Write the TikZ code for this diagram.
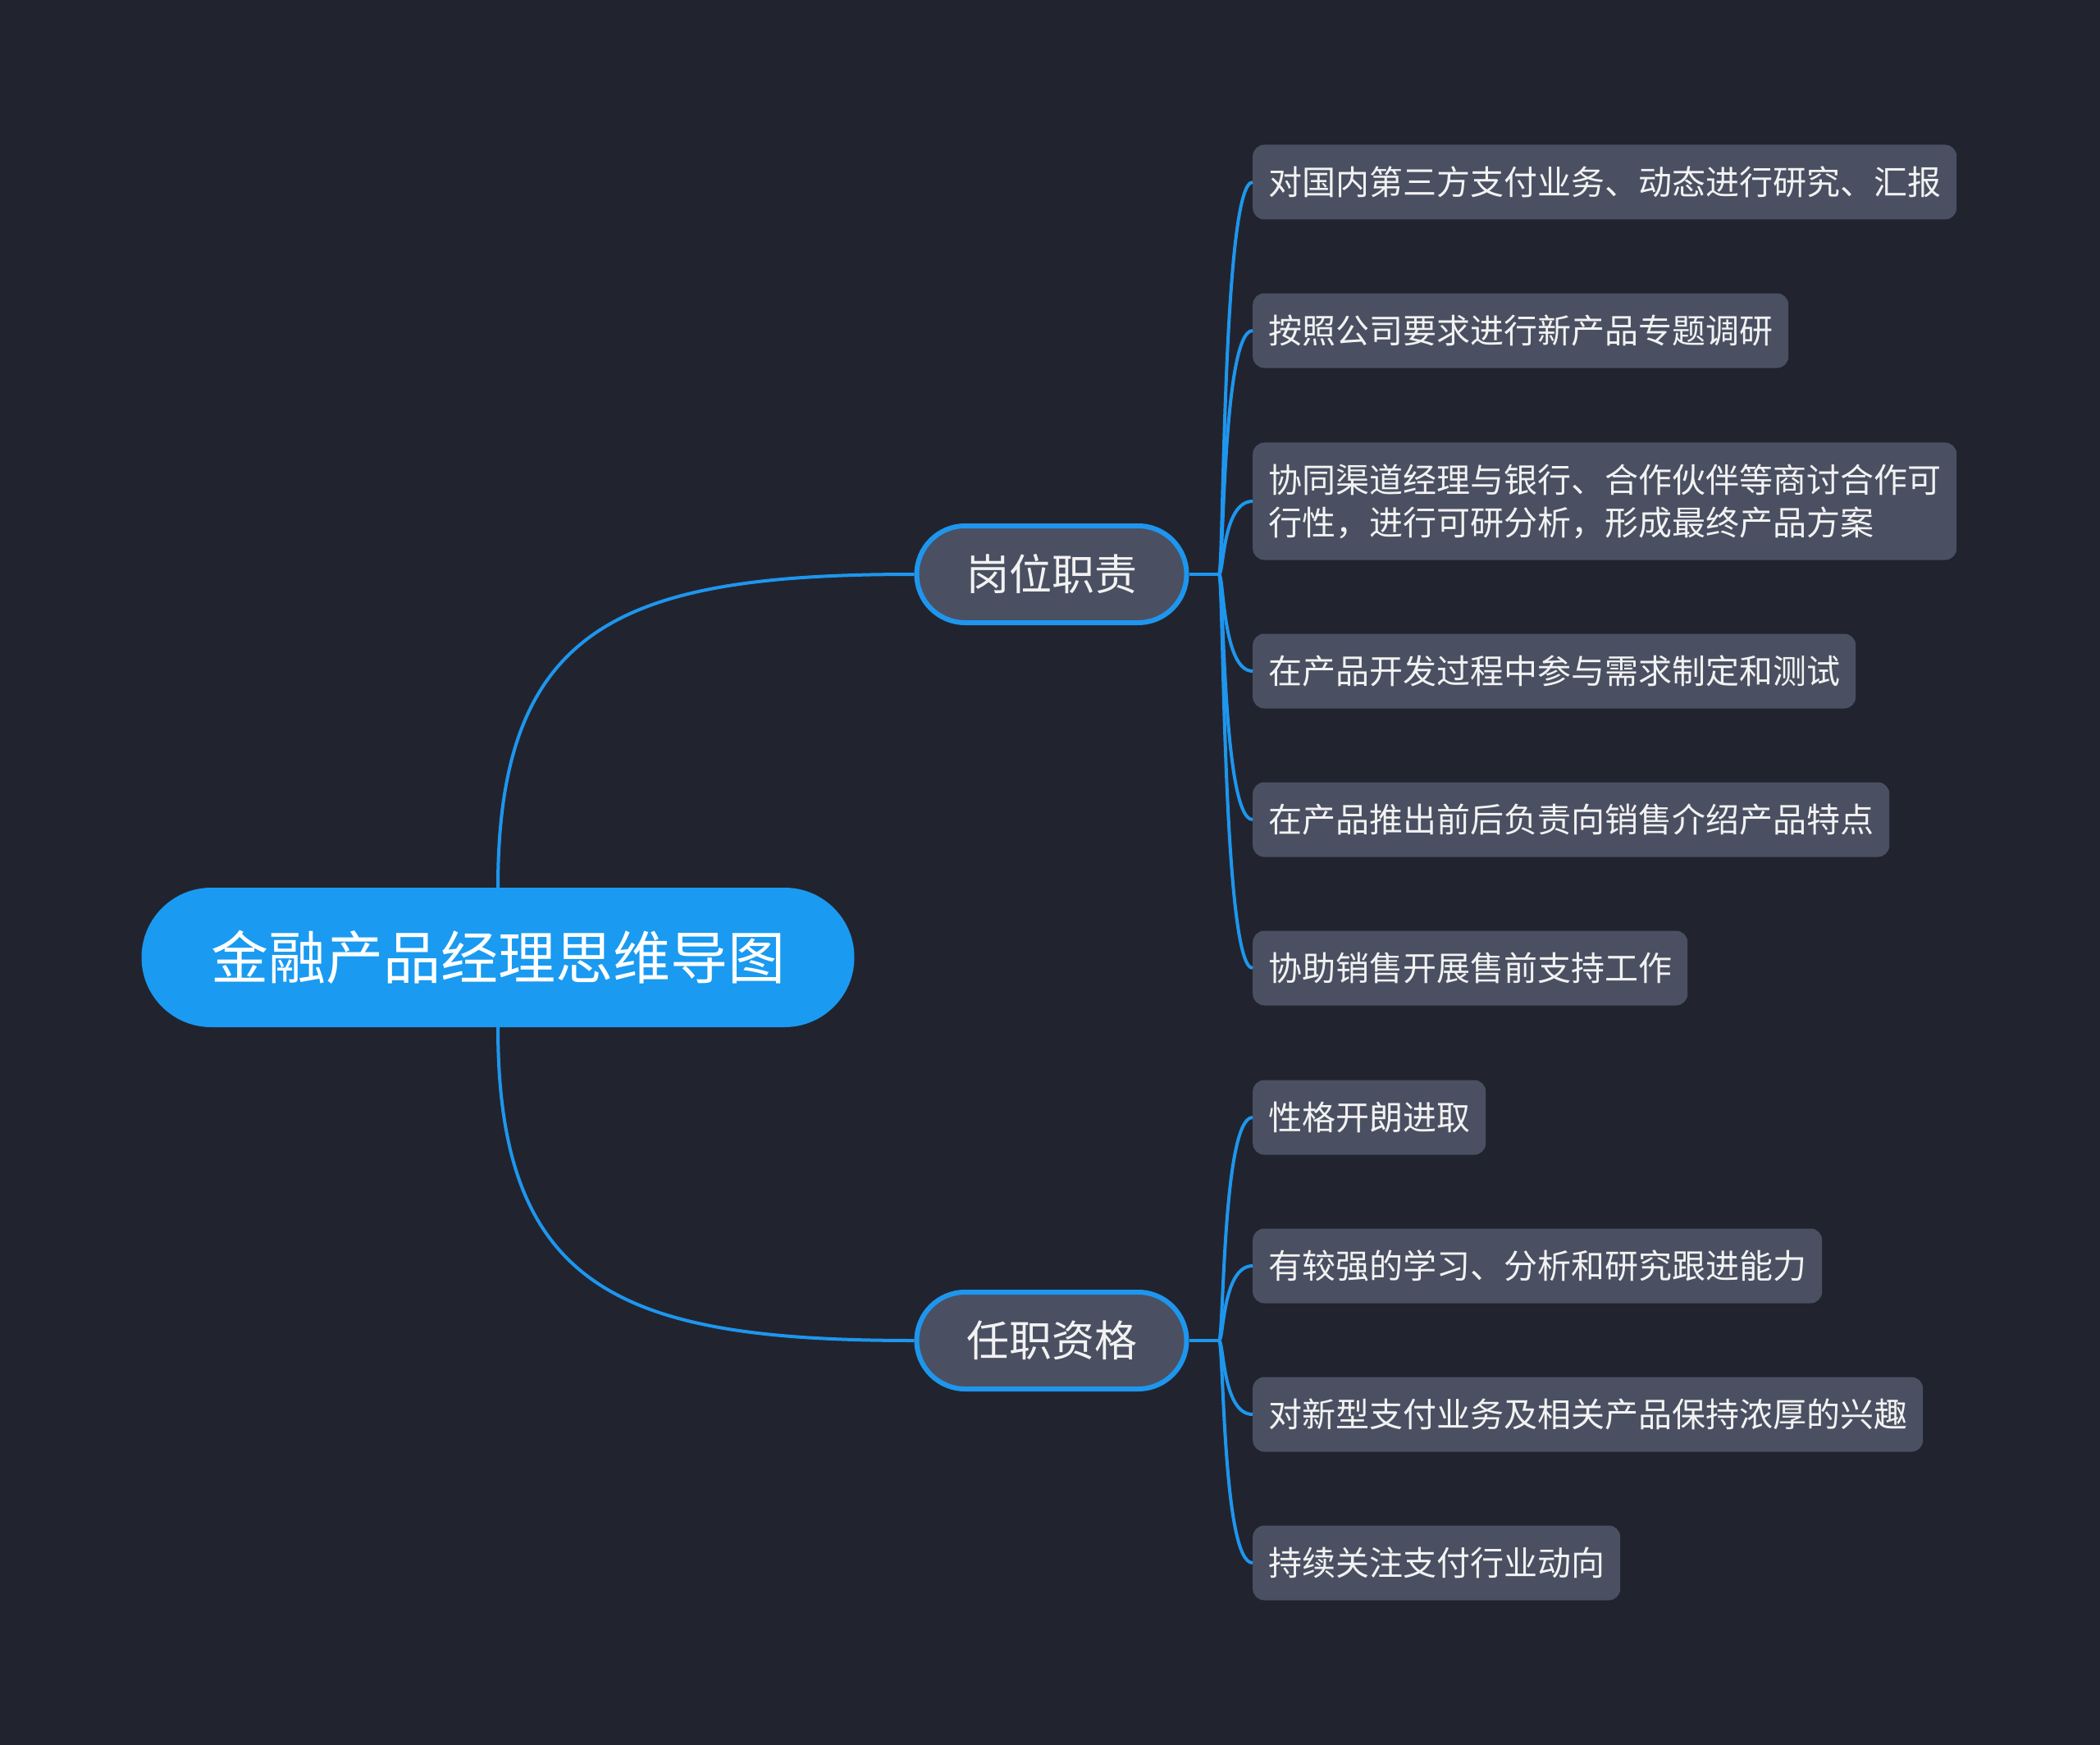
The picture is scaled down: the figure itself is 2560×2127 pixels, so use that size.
\documentclass[tikz,border=0pt]{standalone}
\usepackage{fontspec}
\newfontfamily\cjk{Noto Sans CJK SC}
\definecolor{bgc}{HTML}{21242F}
\definecolor{blueline}{HTML}{1E96EE}
\definecolor{rootfill}{HTML}{1A9AF0}
\definecolor{boxfill}{HTML}{4A5062}
\definecolor{txt}{HTML}{F2F2F2}
\tikzset{
  rootbox/.style={draw=none, fill=rootfill, rounded corners=85pt, minimum width=869pt, minimum height=170pt, inner sep=0pt, text=white, font=\cjk\fontsize{70pt}{80pt}\selectfont},
  branchbox/.style={draw=blueline, line width=6pt, fill=boxfill, rounded corners=59pt, minimum width=329pt, minimum height=118pt, inner sep=0pt, text=txt, font=\cjk\fontsize{52pt}{60pt}\selectfont},
  leafbox/.style={draw=none, fill=boxfill, rounded corners=14pt, minimum height=91pt, inner xsep=19pt, inner ysep=26pt, anchor=west, align=left, text=txt, font=\cjk\fontsize{41pt}{52pt}\selectfont},
  conn/.style={draw=blueline, line width=4pt},
}
\begin{document}
\begin{tikzpicture}[x=1pt, y=-1pt]
\useasboundingbox (0,0) rectangle (2560,2127);
\fill[bgc] (0,0) rectangle (2560,2127);

\node[rootbox] (root) at (607,1167) {金融产品经理思维导图};
\node[branchbox] (b1) at (1282,700) {岗位职责};
\node[branchbox] (b2) at (1282,1634) {任职资格};

\node[leafbox] (l1) at (1527,222) {对国内第三方支付业务、动态进行研究、汇报};
\node[leafbox] (l2) at (1527,403) {按照公司要求进行新产品专题调研};
\node[leafbox] (l3) at (1527,611) {协同渠道经理与银行、合作伙伴等商讨合作可\\行性，进行可研分析，形成最终产品方案};
\node[leafbox] (l4) at (1527,818) {在产品开发过程中参与需求制定和测试};
\node[leafbox] (l5) at (1527,999) {在产品推出前后负责向销售介绍产品特点};
\node[leafbox] (l6) at (1527,1180) {协助销售开展售前支持工作};
\node[leafbox] (l7) at (1527,1362) {性格开朗进取};
\node[leafbox] (l8) at (1527,1543) {有较强的学习、分析和研究跟进能力};
\node[leafbox] (l9) at (1527,1724) {对新型支付业务及相关产品保持浓厚的兴趣};
\node[leafbox] (l10) at (1527,1905) {持续关注支付行业动向};

\coordinate (h1) at (1486,700);
\coordinate (h2) at (1486,1634);

% root to branches
\draw[conn] (root.north) .. controls (607,760) and (760,700) .. (b1.west);
\draw[conn] (root.south) .. controls (607,1574) and (760,1634) .. (b2.west);

% branch stubs
\draw[conn] (b1.east) -- (h1);
\draw[conn] (b2.east) -- (h2);

% branch to leaves
\foreach \l in {l1,l2,l3,l4,l5,l6}{
  \draw[conn] (h1) .. controls (1492,700) and (1490,0|-\l.west) .. (\l.west);
}
\foreach \l in {l7,l8,l9,l10}{
  \draw[conn] (h2) .. controls (1492,1634) and (1490,0|-\l.west) .. (\l.west);
}
\end{tikzpicture}
\end{document}
